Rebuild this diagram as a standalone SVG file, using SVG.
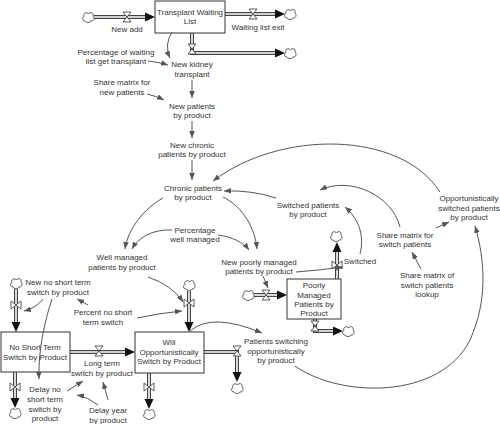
<svg xmlns="http://www.w3.org/2000/svg" width="500" height="424" viewBox="0 0 500 424">
<style>
.t{font-family:"Liberation Sans",Arial,sans-serif;font-size:8px;fill:#333;text-anchor:middle}
.c{fill:none;stroke:#555;stroke-width:1;marker-end:url(#a)}
.po{fill:none;stroke:#444;stroke-width:4;stroke-linejoin:miter}
.pi{fill:none;stroke:#fff;stroke-width:1.6;stroke-linejoin:miter}
.ph{fill:#111}
.stock{fill:#fff;stroke:#333;stroke-width:1}
</style>
<defs>
<marker id="a" viewBox="0 0 10 8" refX="10" refY="4" markerWidth="7" markerHeight="5.6" orient="auto" markerUnits="userSpaceOnUse"><path d="M0,0 L10,4 L0,8 Z" fill="#555"/></marker>
<path id="cl" d="M-3,4 C-6,4 -6,0 -4,-0.5 C-5.5,-4 -1,-5.5 0.5,-3 C2,-5.5 6,-4.5 5,-1 C7,0.5 6,4.5 3,4 C2,6 -2,6 -3,4 Z" fill="#fff" stroke="#333" stroke-width="0.8"/>
<path id="vh" d="M-4,-5 H4 L-4,5 H4 Z" fill="#fff" stroke="#333" stroke-width="0.8"/>
<path id="vv" d="M-5,-4 V4 L5,-4 V4 Z" fill="#fff" stroke="#333" stroke-width="0.8"/>
</defs>

<g id="flow-new-add">
<path class="po" d="M94,17 H146"/><path class="pi" d="M94,17 H146"/>
<polygon class="ph" points="145,12.5 155,17 145,21.5"/>
<use href="#cl" x="88" y="17"/><use href="#vh" x="127" y="17"/>
<text class="t" x="127" y="32">New add</text>
</g>
<g id="flow-waiting-list-exit">
<path class="po" d="M225,14 H276"/><path class="pi" d="M225,14 H276"/>
<polygon class="ph" points="275,9.5 285,14 275,18.5"/>
<use href="#cl" x="290" y="14"/><use href="#vh" x="253" y="14"/>
<text class="t" x="258" y="30">Waiting list exit</text>
</g>
<g id="flow-new-kidney-transplant">
<path class="po" d="M192,33 V53 H276"/><path class="pi" d="M192,33 V53 H276"/>
<polygon class="ph" points="275,48.5 285,53 275,57.5"/>
<use href="#cl" x="290" y="53"/><use href="#vh" x="192" y="49"/>
<text class="t" x="192" y="67">New kidney</text>
<text class="t" x="192" y="77">transplant</text>
</g>
<g id="flow-new-no-short-term">
<path class="po" d="M16,289 V323"/><path class="pi" d="M16,289 V323"/>
<polygon class="ph" points="11.5,322 16,332 20.5,322"/>
<use href="#cl" x="16" y="283"/><use href="#vv" x="16" y="305"/>
</g>
<g id="flow-delay-no-short-term">
<path class="po" d="M15,372 V399"/><path class="pi" d="M15,372 V399"/>
<polygon class="ph" points="10.5,398 15,408 19.5,398"/>
<use href="#cl" x="15" y="413"/><use href="#vv" x="15" y="387"/>
</g>
<g id="flow-long-term-switch">
<path class="po" d="M70,352 H126"/><path class="pi" d="M70,352 H126"/>
<polygon class="ph" points="125,347.5 135,352 125,356.5"/>
<use href="#vh" x="99" y="351"/>
<text class="t" x="102" y="366">Long term</text>
<text class="t" x="102" y="376">switch by product</text>
</g>
<g id="flow-will-in">
<path class="po" d="M189,291 V323"/><path class="pi" d="M189,291 V323"/>
<polygon class="ph" points="184.5,322 189,332 193.5,322"/>
<use href="#cl" x="189" y="285"/><use href="#vv" x="189" y="303"/>
</g>
<g id="flow-will-out">
<path class="po" d="M149,373 V400"/><path class="pi" d="M149,373 V400"/>
<polygon class="ph" points="144.5,399 149,409 153.5,399"/>
<use href="#cl" x="149" y="414"/><use href="#vv" x="149" y="387"/>
</g>
<g id="flow-patients-switching">
<path class="po" d="M204,352 H237 V373"/><path class="pi" d="M204,352 H237 V373"/>
<polygon class="ph" points="232.5,372 237,382 241.5,372"/>
<use href="#cl" x="237" y="388"/><use href="#vh" x="237" y="351"/>
</g>
<g id="flow-new-poorly">
<path class="po" d="M254,295 H278"/><path class="pi" d="M254,295 H278"/>
<polygon class="ph" points="277,290.5 287,295 277,299.5"/>
<use href="#cl" x="248" y="295"/><use href="#vh" x="266" y="295"/>
</g>
<g id="flow-switched">
<path class="po" d="M337,279 V251"/><path class="pi" d="M337,279 V251"/>
<polygon class="ph" points="332.5,252 337,242 341.5,252"/>
<use href="#cl" x="336" y="236"/><use href="#vv" x="337" y="265"/>
<text class="t" x="360" y="264">Switched</text>
</g>
<g id="flow-poorly-out">
<path class="po" d="M315,319 V331 H334"/><path class="pi" d="M315,319 V331 H334"/>
<polygon class="ph" points="333,326.5 343,331 333,335.5"/>
<use href="#cl" x="348" y="331"/><use href="#vh" x="315" y="326"/>
</g>

<g id="stock-transplant-waiting-list">
<rect class="stock" x="155" y="1" width="70" height="32"/>
<text class="t" x="190" y="15">Transplant Waiting</text>
<text class="t" x="190" y="24">List</text>
</g>
<g id="stock-no-short-term">
<rect class="stock" x="1" y="332" width="69" height="40"/>
<text class="t" x="35" y="350">No Short Term</text>
<text class="t" x="35" y="360">Switch by Product</text>
</g>
<g id="stock-will-opportunistically">
<rect class="stock" x="135" y="332" width="69" height="41"/>
<text class="t" x="169" y="345">Will</text>
<text class="t" x="169" y="355">Opportunistically</text>
<text class="t" x="169" y="364">Switch by Product</text>
</g>
<g id="stock-poorly-managed">
<rect class="stock" x="287" y="279" width="54" height="40"/>
<text class="t" x="314" y="288">Poorly</text>
<text class="t" x="314" y="298">Managed</text>
<text class="t" x="314" y="307">Patients by</text>
<text class="t" x="314" y="316">Product</text>
</g>

<g id="aux-percentage-waiting"><text class="t" x="116" y="55">Percentage of waiting</text><text class="t" x="116" y="64">list get transplant</text></g>
<g id="aux-share-matrix-new"><text class="t" x="122" y="85">Share matrix for</text><text class="t" x="122" y="95">new patients</text></g>
<g id="aux-new-patients"><text class="t" x="192" y="109">New patients</text><text class="t" x="192" y="118">by product</text></g>
<g id="aux-new-chronic"><text class="t" x="192" y="148">New chronic</text><text class="t" x="192" y="157">patients by product</text></g>
<g id="aux-chronic"><text class="t" x="193" y="191">Chronic patients</text><text class="t" x="193" y="200">by product</text></g>
<g id="aux-percentage-well"><text class="t" x="195" y="233">Percentage</text><text class="t" x="195" y="242">well managed</text></g>
<g id="aux-well-managed"><text class="t" x="122" y="260">Well managed</text><text class="t" x="122" y="270">patients by product</text></g>
<g id="aux-new-poorly"><text class="t" x="259" y="265">New poorly managed</text><text class="t" x="259" y="274">patients by product</text></g>
<g id="aux-switched-patients"><text class="t" x="308" y="208">Switched patients</text><text class="t" x="308" y="217">by product</text></g>
<g id="aux-opp-switched"><text class="t" x="469" y="201">Opportunistically</text><text class="t" x="469" y="211">switched patients</text><text class="t" x="469" y="220">by product</text></g>
<g id="aux-share-switch"><text class="t" x="405" y="238">Share matrix for</text><text class="t" x="405" y="247">switch patients</text></g>
<g id="aux-share-lookup"><text class="t" x="427" y="278">Share matrix of</text><text class="t" x="427" y="288">switch patients</text><text class="t" x="427" y="297">lookup</text></g>
<g id="aux-new-no-short"><text class="t" x="58" y="285">New no short term</text><text class="t" x="58" y="295">switch by product</text></g>
<g id="aux-percent-no-short"><text class="t" x="103" y="315">Percent no short</text><text class="t" x="103" y="325">term switch</text></g>
<g id="aux-delay-no-short"><text class="t" x="45" y="392">Delay no</text><text class="t" x="45" y="402">short term</text><text class="t" x="45" y="412">switch by</text><text class="t" x="45" y="421">product</text></g>
<g id="aux-delay-year"><text class="t" x="108" y="413">Delay year</text><text class="t" x="108" y="423">by product</text></g>
<g id="aux-patients-switching"><text class="t" x="276" y="344">Patients switching</text><text class="t" x="276" y="354">opportunistically</text><text class="t" x="276" y="363">by product</text></g>

<g id="connectors">
<path class="c" d="M172,32 Q164,45 170,58"/>
<path class="c" d="M148,61 Q158,62 168,65"/>
<path class="c" d="M147,94 Q156,96 164,100"/>
<path class="c" d="M192,80 L192,98"/>
<path class="c" d="M192,121 L192,138"/>
<path class="c" d="M192,160 L192,180"/>
<path class="c" d="M163,198 C145,208 128,228 125,249"/>
<path class="c" d="M223,197 C243,207 255,228 257,249"/>
<path class="c" d="M172,230 C152,229 138,238 132,249"/>
<path class="c" d="M218,235 C232,237 243,242 249,250"/>
<path class="c" d="M276,198 Q252,190 224,191"/>
<path class="c" d="M440,192 C400,130 280,130 213,181"/>
<path class="c" d="M400,227 C392,195 350,176 320,190"/>
<path class="c" d="M360,254 C365,235 358,218 345,207"/>
<path class="c" d="M436,228 L449,222"/>
<path class="c" d="M421,269 L412,252"/>
<path class="c" d="M295,366 C340,398 440,400 470,340 C488,300 485,260 475,226"/>
<path class="c" d="M190,331 Q212,312 262,333"/>
<path class="c" d="M296,272 Q322,270 343,267"/>
<path class="c" d="M263,276 L268,288"/>
<path class="c" d="M148,277 Q172,285 183,302"/>
<path class="c" d="M137,318 Q160,313 182,311"/>
<path class="c" d="M88,305 L77,299"/>
<path class="c" d="M43,299 Q36,308 24,311"/>
<path class="c" d="M52,299 C45,320 38,350 39,379"/>
<path class="c" d="M67,391 L83,381"/>
<path class="c" d="M98,405 Q88,397 77,395"/>
<path class="c" d="M108,400 L103,382"/>
</g>
</svg>
